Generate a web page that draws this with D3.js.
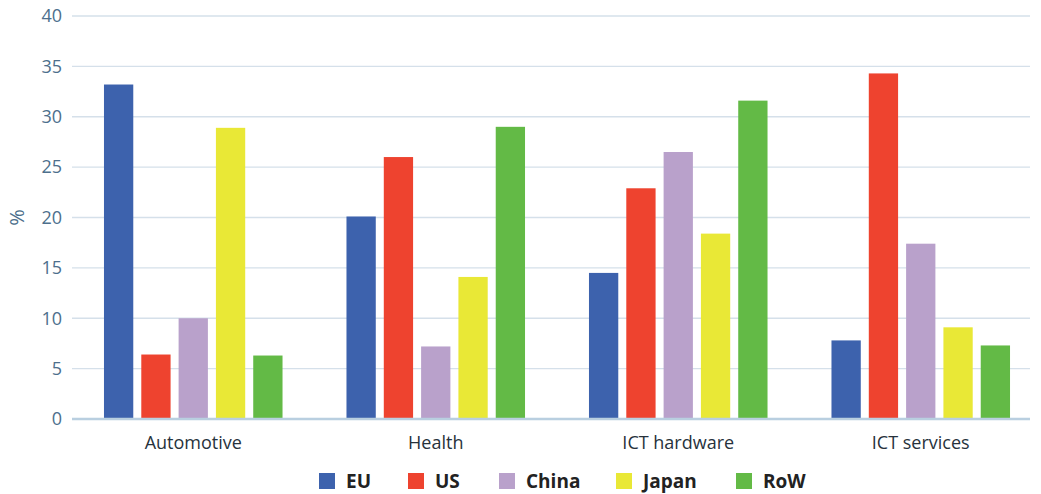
<!DOCTYPE html>
<html>
<head>
<meta charset="utf-8">
<script src="https://cdn.jsdelivr.net/npm/d3@7"></script>
<style>
  body { margin: 0; background: #fff; }
  svg text { font-family: "Open Sans", "Noto Sans", sans-serif; }
</style>
</head>
<body>
<svg width="1041" height="494"></svg>
<script>
const categories = ["Automotive", "Health", "ICT hardware", "ICT services"];
const seriesNames = ["EU", "US", "China", "Japan", "RoW"];
const seriesColors = ["#3d62ad", "#ee432f", "#b9a1cb", "#e9e836", "#63ba46"];
const euValues = [33.2, 20.1, 14.5, 7.8];
const usValues = [6.4, 26.0, 22.9, 34.3];
const chinaValues = [10.0, 7.2, 26.5, 17.4];
const japanValues = [28.9, 14.1, 18.4, 9.1];
const rowValues = [6.3, 29.0, 31.6, 7.3];
const yTicks = [0, 5, 10, 15, 20, 25, 30, 35, 40];

const allSeries = [euValues, usValues, chinaValues, japanValues, rowValues];

const svg = d3.select("svg");

let xScale = d3.scaleBand().domain(categories).range([72, 1042]);
let xInner = d3.scaleBand().domain(seriesNames)
  .range([0, xScale.bandwidth()])
  .paddingInner(0.215)
  .paddingOuter(0.857);
let yScale = d3.scaleLinear().domain([0, 40]).range([419, 16]);

// gridlines
svg.append("g")
  .selectAll("line")
  .data(yTicks.filter(d => d > 0))
  .join("line")
  .attr("x1", 72).attr("x2", 1030)
  .attr("y1", d => yScale(d)).attr("y2", d => yScale(d))
  .style("stroke", "#d5e0ea")
  .style("stroke-width", 1.3);

// bars
let groups = svg.append("g")
  .selectAll("g")
  .data(categories)
  .join("g")
  .attr("transform", d => `translate(${xScale(d)},0)`);

groups.selectAll("rect")
  .data((c, i) => seriesNames.map((s, j) => ({ s: s, v: allSeries[j][i], color: seriesColors[j] })))
  .join("rect")
  .attr("x", d => xInner(d.s))
  .attr("y", d => yScale(d.v))
  .attr("width", xInner.bandwidth())
  .attr("height", d => yScale(0) - yScale(d.v))
  .style("fill", d => d.color);

// baseline
svg.append("line")
  .attr("x1", 72).attr("x2", 1030)
  .attr("y1", yScale(0)).attr("y2", yScale(0))
  .style("stroke", "#b9cfe0")
  .style("stroke-width", 2.5);

// y axis labels
let yAxis = d3.axisLeft(yScale).tickValues(yTicks).tickSize(0).tickPadding(10);
let yG = svg.append("g")
  .attr("transform", "translate(72,0)")
  .call(yAxis);
yG.select(".domain").remove();
yG.selectAll("text")
  .attr("x", -10)
  .style("font-size", "18px")
  .style("fill", "#4d6f8c");

svg.append("text")
  .attr("transform", `translate(24,${yScale(20)}) rotate(-90)`)
  .attr("text-anchor", "middle")
  .style("font-size", "20px")
  .style("fill", "#4d6f8c")
  .text("%");

// x axis labels
let xAxis = d3.axisBottom(xScale).tickSize(0).tickPadding(17);
let xG = svg.append("g")
  .attr("transform", `translate(0,${yScale(0)})`)
  .call(xAxis);
xG.select(".domain").remove();
xG.selectAll("text")
  .style("font-size", "18px")
  .style("fill", "#27323c");

// legend
const legendX = [319, 408, 499, 616, 736];
let legend = svg.append("g")
  .selectAll("g")
  .data(seriesNames)
  .join("g")
  .attr("transform", (d, i) => `translate(${legendX[i]},473)`);
legend.append("rect")
  .attr("width", 16).attr("height", 16)
  .style("fill", (d, i) => seriesColors[i]);
legend.append("text")
  .attr("x", 27).attr("y", 15)
  .style("font-size", "19px")
  .style("font-weight", "bold")
  .style("fill", "#222")
  .text(d => d);
</script>
</body>
</html>
